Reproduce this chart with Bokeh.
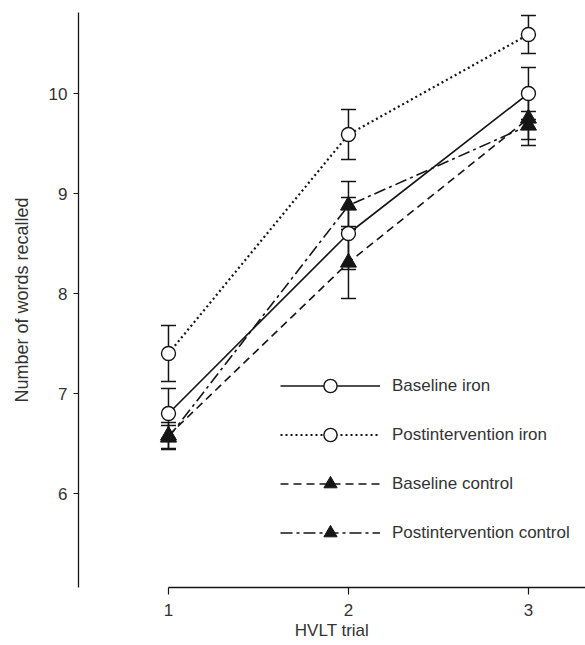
from bokeh.plotting import figure
from bokeh.models import ColumnDataSource, Legend, LegendItem, Range1d, FixedTicker
from bokeh.embed import file_html
from bokeh.resources import INLINE

trials = [1, 2, 3]
baseline_iron = [6.8, 8.6, 10.0]
baseline_iron_err = [0.25, 0.36, 0.26]
post_iron = [7.4, 9.59, 10.59]
post_iron_err = [0.28, 0.25, 0.19]
baseline_control = [6.58, 8.31, 9.75]
baseline_control_err = [0.13, 0.36, 0.27]
post_control = [6.56, 8.88, 9.68]
post_control_err = [0.12, 0.24, 0.14]

FONT = "Liberation Sans"
TXT = "#333333"
INK = "#151515"
FS = "17px"

p = figure(width=585, height=645, output_backend="svg", toolbar_location=None,
           x_range=Range1d(0.5, 3.317), y_range=Range1d(5.06, 10.81),
           min_border_left=78, min_border_right=0, min_border_top=12, min_border_bottom=58)
p.xgrid.grid_line_color = None
p.ygrid.grid_line_color = None
p.outline_line_color = None
p.background_fill_color = "white"

series = [
    ("Baseline iron", baseline_iron, baseline_iron_err, "solid", 1.6, "circle"),
    ("Postintervention iron", post_iron, post_iron_err, "2 3", 2.2, "circle"),
    ("Baseline control", baseline_control, baseline_control_err, "8 5", 1.6, "triangle"),
    ("Postintervention control", post_control, post_control_err, "12 4 3 4", 1.6, "triangle"),
]

# error bars first
for name, ys, errs, dash, lw, mk in series:
    lo = [y - e for y, e in zip(ys, errs)]
    hi = [y + e for y, e in zip(ys, errs)]
    src = ColumnDataSource(dict(x=trials, lo=lo, hi=hi))
    p.segment(x0="x", y0="lo", x1="x", y1="hi", source=src, line_color=INK, line_width=1.5)
    p.scatter(x="x", y="lo", source=src, marker="dash", size=15, line_color=INK, line_width=1.5)
    p.scatter(x="x", y="hi", source=src, marker="dash", size=15, line_color=INK, line_width=1.5)

items = []
for name, ys, errs, dash, lw, mk in series:
    src = ColumnDataSource(dict(x=trials, y=ys))
    l = p.line(x="x", y="y", source=src, line_color=INK, line_width=lw, line_dash=dash)
    if mk == "circle":
        s = p.scatter(x="x", y="y", source=src, marker="circle", size=14,
                      fill_color="white", line_color=INK, line_width=1.4)
    else:
        s = p.scatter(x="x", y="y", source=src, marker="triangle", size=16,
                      fill_color=INK, line_color=INK, line_width=1)
    items.append(LegendItem(label=name, renderers=[l, s]))

legend = Legend(items=items, location=(202, 38), glyph_width=100, glyph_height=33,
                label_height=33, spacing=16, padding=0, margin=0,
                border_line_color=None, background_fill_alpha=0,
                label_text_font=FONT, label_text_font_size=FS,
                label_text_color=TXT, label_standoff=12)
p.add_layout(legend)

p.xaxis.ticker = FixedTicker(ticks=[1, 2, 3])
p.yaxis.ticker = FixedTicker(ticks=[6, 7, 8, 9, 10])
p.xaxis.bounds = (1, 4)
p.xaxis.minor_tick_line_color = None
p.yaxis.minor_tick_line_color = None
for ax in (p.xaxis, p.yaxis):
    ax.axis_line_color = INK
    ax.axis_line_width = 1.3
    ax.major_tick_line_color = INK
    ax.major_tick_line_width = 1.2
    ax.major_label_text_font = FONT
    ax.major_label_text_font_size = FS
    ax.major_label_text_color = TXT
    ax.axis_label_text_font = FONT
    ax.axis_label_text_font_size = FS
    ax.axis_label_text_color = TXT
    ax.axis_label_text_font_style = "normal"
p.yaxis.axis_label_text_font_size = "18px"
p.xaxis.major_tick_out = 7
p.xaxis.major_tick_in = 0
p.yaxis.major_tick_out = 5
p.yaxis.major_tick_in = 0
p.xaxis.major_label_standoff = 9
p.yaxis.major_label_standoff = 6
p.xaxis.axis_label = "HVLT trial"
p.yaxis.axis_label = "Number of words recalled"
p.xaxis.axis_label_standoff = 2
p.yaxis.axis_label_standoff = 14

open("out.html", "w").write(file_html(p, INLINE))
